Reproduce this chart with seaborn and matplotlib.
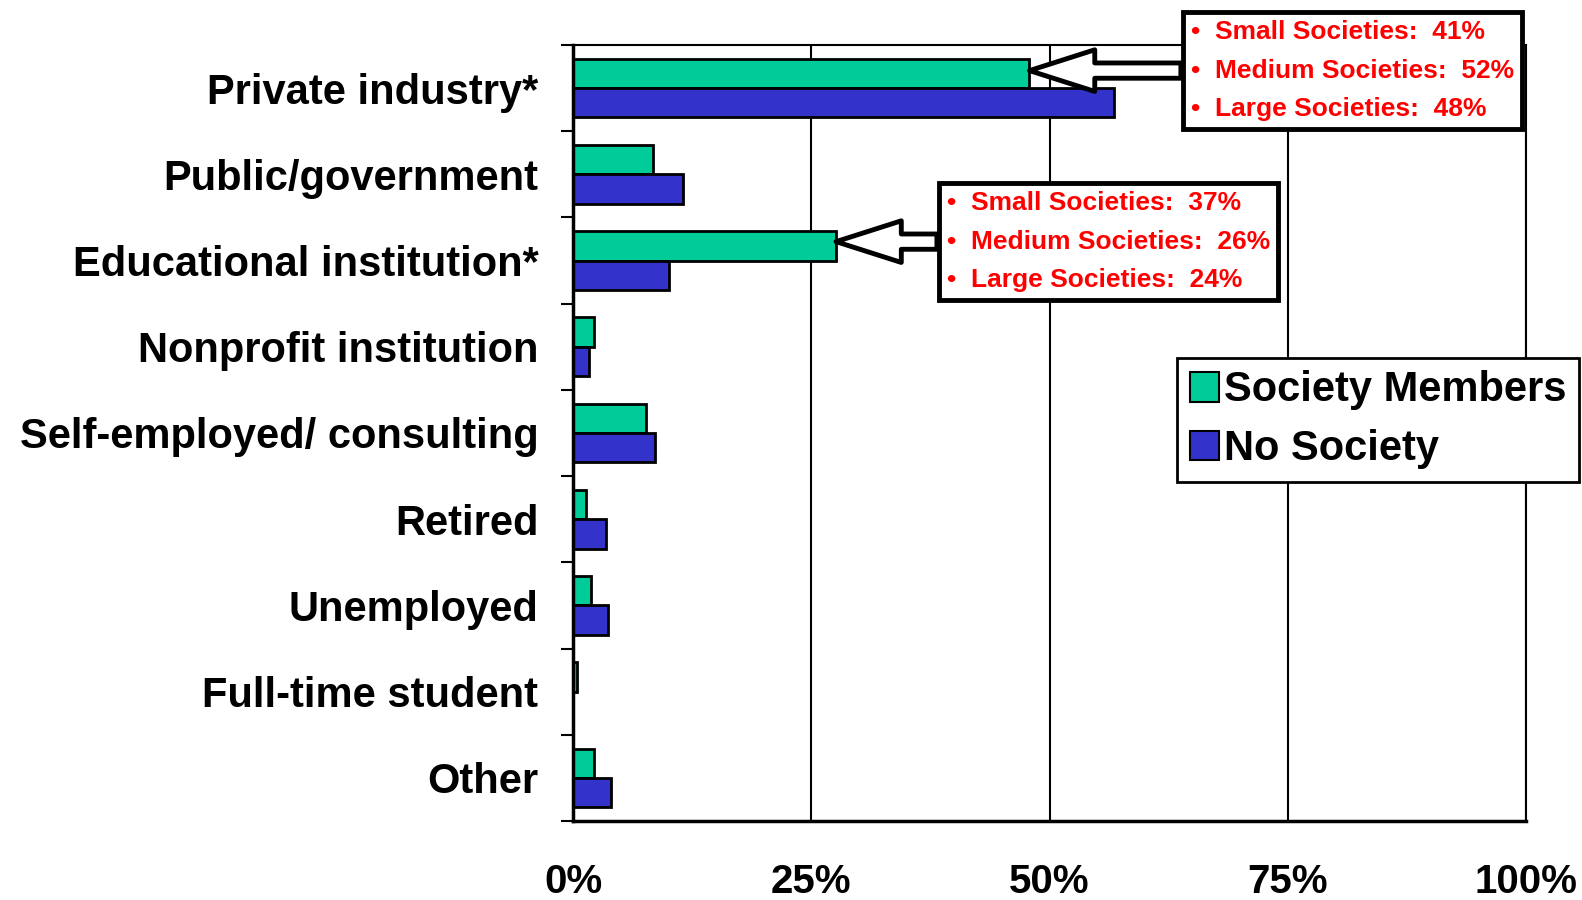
import numpy as np
import pandas as pd
import matplotlib
matplotlib.use("Agg")
import matplotlib.pyplot as plt
import seaborn as sns
from matplotlib.patches import Patch

# -------------------------------
# Data
# -------------------------------
categories = ["Private industry*", "Public/government", "Educational institution*",
              "Nonprofit institution", "Self-employed/ consulting", "Retired",
              "Unemployed", "Full-time student", "Other"]
members = [47.9, 8.4, 27.6, 2.2, 7.7, 1.4, 1.9, 0.4, 2.2]
no_society = [56.8, 11.5, 10.1, 1.7, 8.6, 3.5, 3.7, 0.0, 4.0]
series = ["Society Members", "No Society"]
colors = ["#00CC99", "#3333CC"]
xticks = [0, 25, 50, 75, 100]

note_private = ["Small Societies:  41%", "Medium Societies:  52%", "Large Societies:  48%"]
note_edu = ["Small Societies:  37%", "Medium Societies:  26%", "Large Societies:  24%"]

df = pd.DataFrame({
    "category": categories * 2,
    "pct": members + no_society,
    "group": [series[0]] * len(categories) + [series[1]] * len(categories),
})

# -------------------------------
# Style
# -------------------------------
sns.set_style("white")
plt.rcParams["font.family"] = ["Liberation Sans", "DejaVu Sans"]
plt.rcParams["font.weight"] = "bold"
plt.rcParams["text.color"] = "black"
plt.rcParams["xtick.color"] = "black"
plt.rcParams["ytick.color"] = "black"

fig = plt.figure(figsize=(15.82, 9.0), dpi=100)
ax = fig.add_axes([573 / 1582, 79 / 900, 953 / 1582, 776 / 900])

sns.barplot(data=df, y="category", x="pct", hue="group", orient="h",
            palette=colors, width=0.68, saturation=1, errorbar=None,
            edgecolor="black", linewidth=2, legend=False, ax=ax)

ax.set_xlim(0, 100)
ax.set_ylim(len(categories) - 0.5, -0.5)
ax.set_xlabel("")
ax.set_ylabel("")

ax.set_xticks(xticks)
ax.set_xticklabels([f"{v}%" for v in xticks])
ax.tick_params(axis="x", length=10, width=1.5, pad=20, labelsize=29)
ax.set_yticks(range(len(categories)))
ax.set_yticklabels(categories)
ax.set_yticks(np.arange(-0.5, len(categories)), minor=True)
ax.tick_params(axis="y", which="major", length=0, pad=25, labelsize=30)
ax.tick_params(axis="y", which="minor", left=True, length=9, width=1.5)

ax.xaxis.grid(True, color="black", linewidth=1.5)
ax.set_axisbelow(True)
for side in ["left", "bottom"]:
    ax.spines[side].set_linewidth(2.5)
for side in ["top", "right"]:
    ax.spines[side].set_linewidth(1.5)
for s in ax.spines.values():
    s.set_color("black")

# legend
handles = [Patch(facecolor=c, edgecolor="black", linewidth=1.5) for c in colors]
ax.legend(handles, series, loc="upper left",
          bbox_to_anchor=(1177 / 1582, 1 - 358 / 900), bbox_transform=fig.transFigure,
          fontsize=30, frameon=True, fancybox=False, edgecolor="black", framealpha=1,
          handlelength=0.7, handleheight=0.7, handletextpad=0.12,
          borderpad=0.3, labelspacing=0.45, borderaxespad=0)
ax.get_legend().get_frame().set_linewidth(2)

# callout boxes with hollow arrows
arrow = dict(arrowstyle="simple,head_length=4.7,head_width=3.0,tail_width=1.1",
             fc="white", ec="black", lw=3.5, mutation_scale=10,
             shrinkA=0, shrinkB=0, relpos=(0, 0.5))
box = dict(boxstyle="square,pad=0.3", fc="white", ec="black", lw=3.5)

for lines, val, tx, ty in [(note_private, members[0], 0.648, 0.967),
                           (note_edu, members[2], 0.392, 0.7466)]:
    ax.annotate("\n".join("•  " + s for s in lines),
                xy=(val, ty), xycoords=("data", "axes fraction"),
                xytext=(tx, ty), textcoords="axes fraction",
                ha="left", va="center", fontsize=19, color="red",
                linespacing=1.78, bbox=box, arrowprops=arrow,
                zorder=10, annotation_clip=False)

fig.savefig("out.png", dpi=100)
